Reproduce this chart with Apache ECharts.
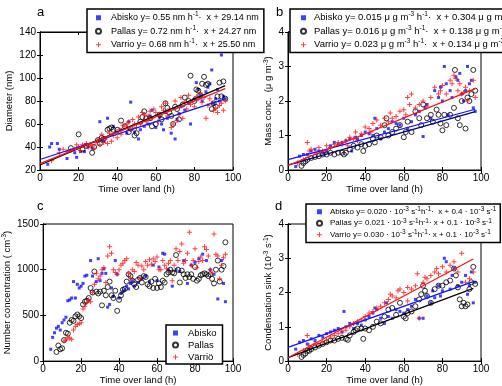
<!DOCTYPE html>
<html>
<head>
<meta charset="utf-8">
<script src="https://cdn.jsdelivr.net/npm/echarts@6.0.0/dist/echarts.min.js"></script>
<style>
html, body { margin: 0; padding: 0; background: #fff; }
#main { width: 502px; height: 386px; }
</style>
</head>
<body>
<div id="main"></div>
<script>
// x ticks shared by all four panels
var xTicks = [0, 20, 40, 60, 80, 100];

// ---- panel a: diameter (nm)
var aAbisko = [[4,25],[5,40],[6,43],[9,43],[10,38],[14,30],[18,35],[19,31],[21,36],[23,36],[25,40],[27,39],[31,62],[33,45],[35,65],[38,58],[40,53],[42,55],[45,52],[46,62],[47,79],[49,53],[51,47],[52,55],[54,58],[56,60],[57,67],[58,72],[60,57],[62,66],[63,60],[64,55],[65,70],[66,65],[68,52],[70,47],[71,64],[72,69],[73,75],[75,72],[77,78],[78,60],[80,82],[81,96],[82,90],[83,85],[84,80],[86,88],[87,92],[88,95],[89,107],[90,78],[91,82],[92,90],[93,80],[94,120],[95,84],[96,82]];
var aPallas = [[16,39],[20,51],[22,38],[24,41],[27,35],[28,40],[30,46],[31,43],[32,48],[33,47],[35,55],[36,56],[37,57],[38,55],[40,55],[42,63],[44,58],[46,53],[47,56],[49,50],[50,52],[52,62],[53,66],[54,71],[55,65],[57,65],[58,58],[60,60],[62,68],[63,64],[65,78],[66,74],[67,70],[68,67],[69,60],[70,75],[71,73],[72,64],[74,77],[75,83],[77,80],[78,102],[80,80],[81,90],[82,89],[83,85],[84,95],[85,101],[86,94],[87,95],[89,73],[90,78],[91,75],[92,84],[93,96],[94,84],[95,97],[96,82]];
var aVarrio = [[6,28],[10,35],[12,38],[14,36],[16,37],[18,38],[19,42],[20,40],[21,37],[22,42],[23,41],[24,43],[25,40],[26,42],[27,41],[28,39],[29,44],[30,46],[31,42],[32,51],[33,44],[34,47],[35,43],[36,52],[37,45],[38,50],[40,48],[41,55],[42,51],[43,59],[44,58],[45,60],[46,62],[47,56],[48,64],[49,60],[50,57],[51,66],[52,60],[53,70],[54,68],[55,62],[56,67],[57,71],[58,65],[59,73],[60,70],[61,62],[62,68],[63,75],[64,72],[65,78],[66,67],[67,73],[68,57],[69,60],[70,80],[71,63],[72,68],[73,83],[74,65],[75,79],[76,73],[77,85],[78,77],[79,80],[80,75],[81,84],[82,82],[83,87],[84,79],[85,83],[86,65],[87,76],[88,82],[89,78],[90,72],[91,74],[92,70],[93,76],[94,78],[95,72],[96,80]];
var aFitAbisko = [[0,29.1],[96,81.9]];
var aFitPallas = [[0,24.3],[96,93.4]];
var aFitVarrio = [[0,25.5],[96,90.8]];

// ---- panel b: mass conc.
var bAbisko = [[4,0.1],[6,0.4],[8,0.45],[10,0.45],[12,0.55],[14,0.6],[16,0.55],[18,0.5],[20,0.55],[22,0.7],[24,0.8],[26,0.75],[28,0.8],[30,0.85],[32,0.9],[33,0.55],[35,0.95],[36,0.9],[38,1.0],[40,1.1],[42,1.05],[44,1.0],[45,1.5],[46,1.2],[48,0.9],[50,1.1],[52,1.2],[54,1.4],[56,1.35],[58,1.3],[60,1.5],[62,1.2],[64,1.4],[66,1.6],[68,1.7],[70,0.97],[71,1.8],[72,1.9],[74,1.5],[76,2.3],[78,2.1],[79,2.4],[80,2.0],[81,3.0],[82,2.5],[83,1.6],[84,2.3],[85,2.1],[87,2.7],[88,2.6],[89,2.8],[90,2.2],[91,2.0],[92,2.3],[93,3.0],[94,2.5],[95,2.6],[96,1.8],[97,1.7]];
var bPallas = [[7,0.12],[8,0.2],[9,0.25],[10,0.3],[12,0.35],[14,0.38],[16,0.4],[18,0.45],[20,0.45],[22,0.5],[24,0.45],[26,0.5],[28,0.5],[29,0.45],[30,0.5],[32,0.6],[34,0.7],[36,0.65],[38,0.75],[39,0.55],[40,0.7],[42,0.75],[44,0.9],[45,0.8],[46,1.0],[48,0.95],[50,1.3],[51,1.5],[52,1.0],[54,1.1],[56,1.2],[58,1.3],[60,0.95],[61,1.1],[62,1.4],[64,1.1],[66,1.7],[68,1.5],[69,1.3],[70,1.9],[72,1.5],[74,1.6],[75,1.4],[77,1.75],[78,1.6],[79,1.35],[80,1.15],[81,1.6],[82,1.3],[84,1.6],[86,1.8],[86.5,2.9],[88,1.5],[89,1.3],[90,2.0],[92,1.2],[93,2.1],[94,2.0],[95,2.2],[96,2.9],[97,2.3]];
var bVarrio = [[5,0.2],[8,0.3],[10,0.8],[11,0.55],[12,0.6],[14,0.5],[16,0.65],[18,0.55],[20,0.7],[22,0.65],[24,0.75],[26,0.8],[28,0.75],[30,0.85],[31,0.7],[32,0.95],[34,0.9],[35,1.1],[36,0.85],[38,1.05],[40,1.25],[42,1.2],[43,1.1],[44,1.35],[46,1.45],[48,1.3],[50,1.5],[52,1.4],[53,1.65],[54,1.5],[56,1.55],[58,1.7],[60,1.75],[61,1.6],[62,2.1],[63,1.9],[64,2.2],[66,1.8],[68,1.9],[70,2.0],[72,1.85],[74,2.1],[76,2.4],[78,2.2],[79,2.3],[80,2.45],[82,2.2],[84,2.6],[85,2.5],[86,2.75],[87,2.65],[88,2.3],[89,2.5],[90,2.2],[91,2.25],[92,2.4],[93,2.0],[94,2.3],[96,2.6],[97,2.1]];
var bFitAbisko = [[0,0.30],[97,1.76]];
var bFitPallas = [[0,0.14],[97,1.69]];
var bFitVarrio = [[0,0.13],[97,2.36]];

// ---- panel c: number concentration
var cAbisko = [[4,130],[5,260],[6,310],[7,360],[8,380],[9,340],[10,420],[11,450],[12,480],[13,660],[14,670],[15,690],[16,870],[17,690],[18,840],[19,800],[20,820],[21,850],[22,930],[23,940],[25,1100],[26,930],[28,870],[29,1120],[30,880],[31,960],[32,1010],[33,960],[34,590],[35,620],[36,800],[37,710],[38,1100],[39,950],[40,690],[41,740],[42,760],[43,780],[44,820],[45,790],[46,850],[47,880],[48,820],[50,860],[52,900],[54,930],[56,870],[58,1050],[60,880],[61,1030],[63,1180],[64,1170],[66,1000],[68,820],[70,1000],[72,980],[74,1100],[76,850],[78,1050],[80,1080],[82,1120],[84,1170],[86,1100],[88,1000],[90,950],[92,680],[94,1100],[95,850],[96,650]];
var cPallas = [[7,100],[8,170],[9,130],[10,140],[11,230],[12,310],[13,300],[14,420],[15,450],[16,440],[17,490],[18,510],[19,490],[20,470],[21,620],[22,650],[23,660],[24,690],[25,800],[26,750],[27,980],[28,760],[29,740],[30,760],[31,610],[32,770],[33,720],[34,810],[35,870],[36,720],[37,690],[38,770],[39,550],[40,670],[41,720],[42,780],[43,790],[44,870],[45,950],[46,930],[47,880],[48,840],[49,810],[50,890],[51,910],[52,860],[53,930],[54,920],[55,840],[56,820],[57,870],[58,800],[59,900],[60,800],[61,850],[62,810],[63,880],[64,860],[65,950],[66,970],[67,1000],[68,970],[69,960],[70,1160],[71,1000],[72,860],[73,990],[74,950],[75,910],[76,950],[77,920],[78,950],[79,900],[80,1030],[81,880],[82,900],[83,940],[84,950],[85,960],[86,950],[87,930],[88,950],[89,900],[90,850],[91,1000],[92,1100],[93,870],[94,1000],[95,1040],[96,1300]];
var cVarrio = [[11,220],[12,230],[13,260],[14,250],[15,240],[16,340],[17,380],[18,400],[19,410],[20,420],[21,570],[22,600],[23,640],[24,670],[25,650],[26,750],[27,840],[28,960],[29,900],[30,930],[31,1000],[32,1020],[33,860],[34,1150],[35,1250],[36,1180],[37,1000],[38,970],[39,950],[40,1000],[41,1050],[42,1070],[43,1100],[44,1120],[45,960],[46,910],[47,1000],[48,980],[49,1080],[50,1050],[51,900],[52,1040],[53,1000],[54,1090],[55,1050],[56,1110],[57,1060],[58,1120],[59,1090],[60,1140],[61,1000],[62,1000],[63,1100],[64,1050],[65,1010],[66,1070],[67,1100],[68,880],[69,1050],[70,1230],[71,1100],[72,1200],[73,1280],[74,1070],[75,1100],[76,1180],[77,1410],[78,1050],[79,1100],[80,1230],[81,1020],[82,1090],[83,1140],[84,1100],[85,1250],[86,1220],[87,1150],[88,1000],[89,960],[90,1390],[91,1170],[92,1150],[93,900],[94,1050],[95,1130],[96,1170]];

// ---- panel d: condensation sink
var dAbisko = [[4,0.35],[6,0.55],[8,0.6],[10,0.5],[12,0.65],[14,0.6],[16,0.75],[18,0.7],[20,0.8],[22,0.85],[24,0.9],[26,0.95],[28,0.85],[29,1.45],[30,1.0],[32,1.1],[34,0.95],[36,1.1],[38,1.05],[40,1.2],[42,1.3],[44,1.4],[45,1.55],[46,1.5],[48,1.25],[50,1.1],[51,1.7],[52,1.3],[54,1.25],[56,1.5],[58,1.45],[60,1.4],[62,1.5],[64,1.6],[66,1.8],[68,1.25],[70,1.25],[72,1.9],[74,1.7],[75,2.05],[76,1.85],[78,2.2],[79,1.9],[80,2.05],[81,3.0],[82,2.9],[84,2.1],[85,2.5],[86,2.7],[88,2.2],[90,2.3],[92,2.5],[93,1.95],[94,2.2],[95,2.6],[96,1.7],[97,2.3]];
var dPallas = [[7,0.12],[8,0.18],[9,0.22],[10,0.3],[11,0.3],[12,0.35],[14,0.4],[16,0.45],[18,0.5],[20,0.55],[22,0.6],[24,0.6],[26,0.65],[28,0.68],[30,0.65],[31,0.62],[32,0.75],[34,0.85],[35,0.9],[36,0.95],[38,0.95],[39,0.65],[40,0.95],[42,0.9],[44,1.0],[46,1.15],[48,1.1],[50,1.3],[52,1.5],[54,1.55],[56,1.35],[58,1.7],[60,1.3],[61,1.25],[62,1.4],[64,1.45],[66,1.6],[68,1.8],[69,1.95],[70,2.2],[71,2.05],[72,1.9],[74,1.7],[76,2.1],[78,2.2],[80,2.2],[82,2.3],[84,2.35],[86,2.7],[87,2.5],[88,2.15],[89,1.8],[90,1.6],[91,1.7],[92,1.6],[93,1.65],[94,2.1],[95,2.3],[96,2.75],[97,2.25]];
var dVarrio = [[5,0.2],[8,0.3],[10,0.75],[11,0.45],[12,0.4],[14,0.5],[16,0.5],[18,0.55],[20,0.6],[22,0.7],[24,0.75],[26,0.8],[28,0.85],[30,0.9],[32,1.0],[34,1.1],[36,1.15],[38,1.2],[40,1.3],[42,1.4],[44,1.45],[46,1.55],[48,1.6],[50,1.7],[52,1.8],[53,1.95],[54,1.9],[56,1.85],[57,2.05],[58,2.1],[60,2.0],[62,2.15],[62,1.75],[64,2.1],[66,2.2],[67,2.55],[68,1.25],[70,2.3],[71,2.45],[72,2.4],[74,2.5],[76,2.6],[77,2.7],[78,2.55],[80,2.75],[82,2.6],[84,2.8],[86,2.9],[88,2.6],[90,3.15],[92,2.3],[94,2.4],[96,2.6]];
var dFitAbisko = [[0,0.40],[96,2.32]];
var dFitPallas = [[0,0.10],[96,2.12]];
var dFitVarrio = [[0,0.10],[96,2.98]];

var FONT = 'Liberation Sans, Arial, sans-serif';
var BLUE = '#1010ff', RED = '#ff1010', BLACK = '#000';
var PLUS = 'path://M4,0H6V4H10V6H6V10H4V6H0V4H4Z';

var legendLabels = {
    aA: 'Abisko y= 0.55 nm h{sup|-1}·  x + 29.14 nm',
    aP: 'Pallas y= 0.72 nm h{sup|-1}·  x + 24.27 nm',
    aV: 'Varrio y= 0.68 nm h{sup|-1}·  x + 25.50 nm',
    bA: 'Abisko y= 0.015 μ g m{sup|-3} h{sup|-1}·  x + 0.304 μ g m{sup|-3}',
    bP: 'Pallas y= 0.016 μ g m{sup|-3} h{sup|-1}·  x + 0.138 μ g m{sup|-3}',
    bV: 'Varrio y= 0.023 μ g m{sup|-3} h{sup|-1}·  x + 0.134 μ g m{sup|-3}',
    cA: 'Abisko',
    cP: 'Pallas',
    cV: 'Värriö',
    dA: 'Abisko y= 0.020 · 10{sup|-3} s{sup|-1}h{sup|-1}·  x + 0.4 · 10{sup|-3} s{sup|-1}',
    dP: 'Pallas y= 0.021 · 10{sup|-3} s{sup|-1}h{sup|-1}· x + 0.1 · 10{sup|-3} s{sup|-1}',
    dV: 'Varrio y= 0.030 · 10{sup|-3} s{sup|-1}h{sup|-1}· x + 0.1 · 10{sup|-3} s{sup|-1}'
};

var grids = [
    { left: 40, top: 32, width: 193, height: 138 },
    { left: 288, top: 32, width: 193, height: 138 },
    { left: 40, top: 224, width: 193, height: 139 },
    { left: 288, top: 224, width: 193, height: 139 }
];
var yRanges = [[20, 140, 20], [0, 4, 1], [0, 1500, 500], [0, 4, 1]];
var yNames = [
    'Diameter (nm)',
    'Mass conc.  (μ g m{sup|-3})',
    'Number concentration ( cm{sup|-3})',
    'Condensation sink (10{sup|-3} s{sup|-1})'
];
var yNameGaps = [22, 12, 26, 12];

var richSup = { sup: { fontSize: 6.5, fontFamily: FONT, color: '#000', verticalAlign: 'top', lineHeight: 7 } };

var xAxes = [], yAxes = [];
grids.forEach(function (g, i) {
    var tick = { inside: true, length: 3, lineStyle: { color: '#000' } };
    xAxes.push({
        gridIndex: i, type: 'value', min: 0, max: 100, interval: 20, position: 'bottom',
        name: 'Time over land (h)', nameLocation: 'middle', nameGap: 12,
        nameTextStyle: { fontSize: 9.5, color: '#000', fontFamily: FONT },
        axisLine: { lineStyle: { color: '#000' } },
        axisTick: tick,
        axisLabel: { fontSize: 10, color: '#000', fontFamily: FONT, margin: 3 },
        splitLine: { show: false }
    });
    xAxes.push({
        gridIndex: i, type: 'value', min: 0, max: 100, interval: 20, position: 'top',
        axisLine: { lineStyle: { color: '#000' } },
        axisTick: tick, axisLabel: { show: false }, splitLine: { show: false }
    });
    var r = yRanges[i];
    yAxes.push({
        gridIndex: i, type: 'value', min: r[0], max: r[1], interval: r[2], position: 'left',
        name: yNames[i], nameLocation: 'middle', nameGap: yNameGaps[i],
        nameTextStyle: { fontSize: 9.5, color: '#000', fontFamily: FONT, lineHeight: 12, rich: richSup },
        axisLine: { show: true, lineStyle: { color: '#000' } },
        axisTick: tick,
        axisLabel: {
            fontSize: 10, color: '#000', fontFamily: FONT, margin: 4,
            formatter: function (v) { return String(v); }
        },
        splitLine: { show: false }
    });
    yAxes.push({
        gridIndex: i, type: 'value', min: r[0], max: r[1], interval: r[2], position: 'right',
        axisLine: { show: true, lineStyle: { color: '#000' } },
        axisTick: tick, axisLabel: { show: false }, splitLine: { show: false }
    });
});

function scatter(name, gi, data, kind) {
    var s = {
        name: name, type: 'scatter', xAxisIndex: gi * 2, yAxisIndex: gi * 2,
        data: data, silent: true
    };
    if (kind === 'A') {
        s.symbol = 'rect'; s.symbolSize = 3;
        s.itemStyle = { color: BLUE };
    } else if (kind === 'P') {
        s.symbol = 'circle'; s.symbolSize = 5;
        s.itemStyle = { color: 'rgba(0,0,0,0)', borderColor: BLACK, borderWidth: 1 };
    } else {
        s.symbol = PLUS; s.symbolSize = 5;
        s.itemStyle = { color: RED };
    }
    return s;
}
function fit(gi, data, color) {
    return {
        type: 'line', xAxisIndex: gi * 2, yAxisIndex: gi * 2, data: data,
        showSymbol: false, silent: true, z: 3,
        lineStyle: { color: color, width: 1.2 }
    };
}

var series = [
    scatter('aA', 0, aAbisko, 'A'), scatter('aP', 0, aPallas, 'P'), scatter('aV', 0, aVarrio, 'V'),
    fit(0, aFitAbisko, BLUE), fit(0, aFitPallas, BLACK), fit(0, aFitVarrio, RED),
    scatter('bA', 1, bAbisko, 'A'), scatter('bP', 1, bPallas, 'P'), scatter('bV', 1, bVarrio, 'V'),
    fit(1, bFitAbisko, BLUE), fit(1, bFitPallas, '#000080'), fit(1, bFitVarrio, RED),
    scatter('cA', 2, cAbisko, 'A'), scatter('cP', 2, cPallas, 'P'), scatter('cV', 2, cVarrio, 'V'),
    scatter('dA', 3, dAbisko, 'A'), scatter('dP', 3, dPallas, 'P'), scatter('dV', 3, dVarrio, 'V'),
    fit(3, dFitAbisko, BLUE), fit(3, dFitPallas, BLACK), fit(3, dFitVarrio, RED)
];

function legend(names, pos, fontSize, lineH, pad, textPad) {
    return {
        data: names, orient: 'vertical', left: pos[0], top: pos[1],
        selectedMode: false, backgroundColor: '#fff',
        borderColor: '#000', borderWidth: 1.5, borderRadius: 0,
        padding: pad, itemGap: 0, itemWidth: 5, itemHeight: 5,
        formatter: function (n) { return legendLabels[n]; },
        textStyle: {
            fontSize: fontSize, color: '#000', fontFamily: FONT, lineHeight: lineH,
            padding: [0, 0, 0, textPad], rich: richSup
        }
    };
}

var option = {
    backgroundColor: '#fff',
    animation: false,
    grid: grids.map(function (g) {
        return Object.assign({ show: true, borderColor: '#000', borderWidth: 1, backgroundColor: 'transparent' }, g);
    }),
    xAxis: xAxes,
    yAxis: yAxes,
    legend: [
        legend(['aA', 'aP', 'aV'], [87, 9], 9, 13.5, [2, 5, 1, 8], 5),
        legend(['bA', 'bP', 'bV'], [290, 9], 9.5, 13.5, [2, 6, 1, 10], 3),
        legend(['cA', 'cP', 'cV'], [166, 325], 9.5, 12, [2, 6, 1, 6], 5),
        legend(['dA', 'dP', 'dV'], [306, 204], 8, 11.5, [2, 4, 2, 10], 3)
    ],
    graphic: [
        { type: 'text', left: 37, top: 6, style: { text: 'a', fontSize: 13, fontFamily: FONT, fill: '#000' } },
        { type: 'text', left: 276, top: 6, style: { text: 'b', fontSize: 13, fontFamily: FONT, fill: '#000' } },
        { type: 'text', left: 37, top: 200, style: { text: 'c', fontSize: 13, fontFamily: FONT, fill: '#000' } },
        { type: 'text', left: 275, top: 200, style: { text: 'd', fontSize: 13, fontFamily: FONT, fill: '#000' } }
    ],
    series: series
};

var myChart = echarts.init(document.getElementById('main'));
myChart.setOption(option);
window.addEventListener('resize', function () {
    myChart.resize();
});
</script>
</body>
</html>
